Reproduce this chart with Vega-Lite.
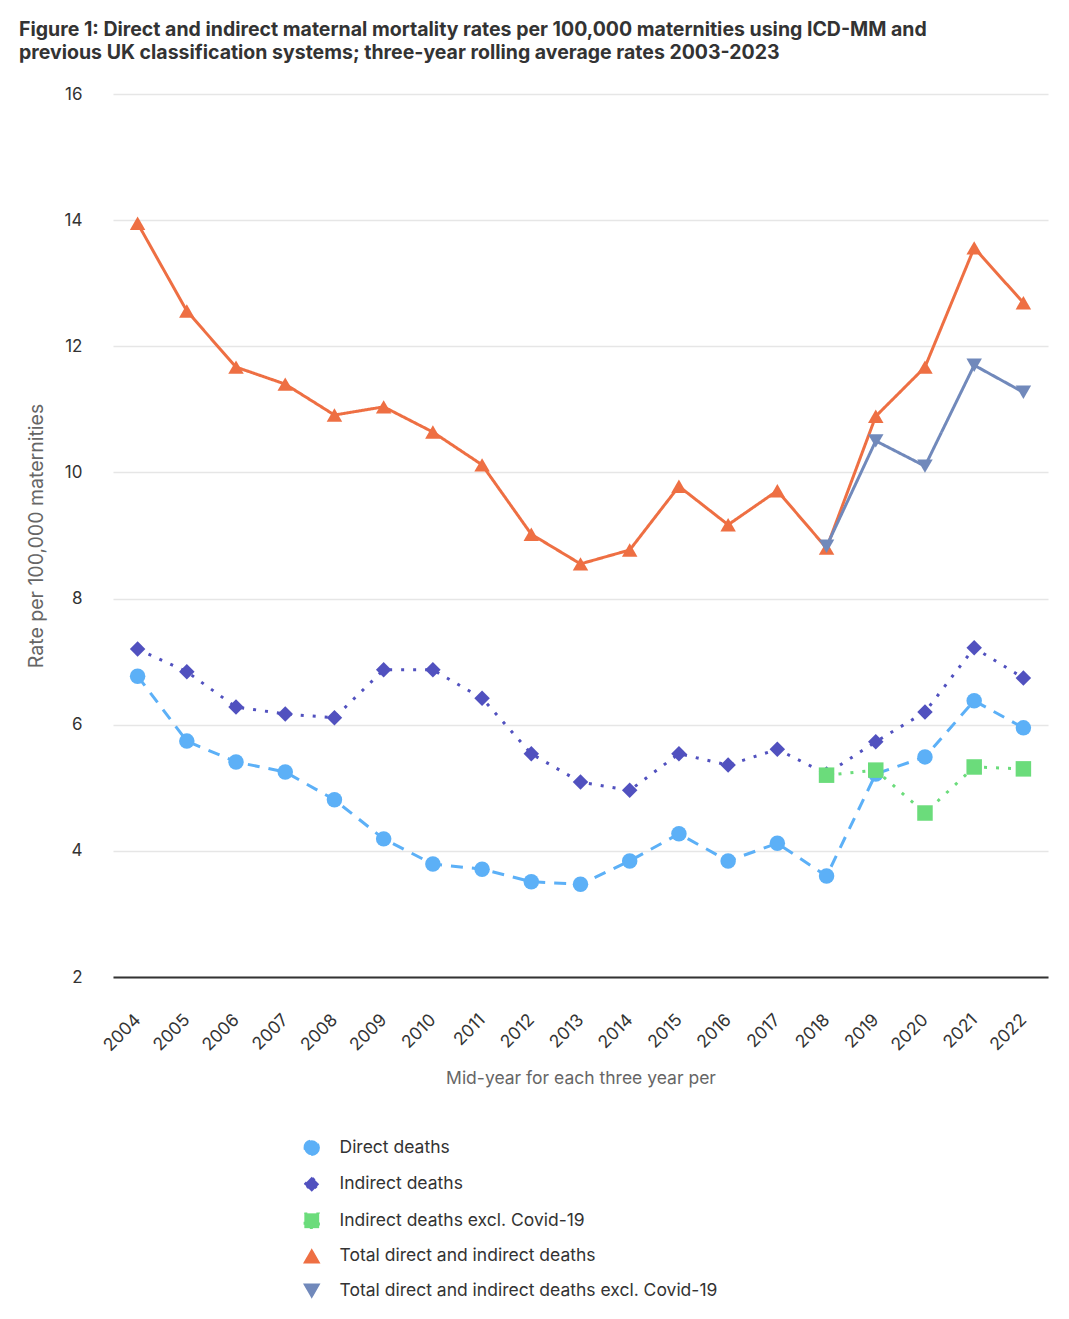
{
  "$schema": "https://vega.github.io/schema/vega-lite/v6.json",
  "width": 935,
  "height": 883,
  "autosize": {"type": "none"},
  "padding": {"left": 113, "top": 94, "right": 21, "bottom": 342},
  "background": "white",
  "config": {
    "font": "Inter",
    "view": {"stroke": null}
  },
  "title": {
    "text": ["Figure 1: Direct and indirect maternal mortality rates per 100,000 maternities using ICD-MM and", "previous UK classification systems; three-year rolling average rates 2003-2023"],
    "anchor": "start",
    "frame": "group",
    "dx": -94,
    "offset": 22,
    "fontSize": 19.5,
    "fontWeight": "bold",
    "color": "#333333",
    "font": "Inter",
    "lineHeight": 23
  },
  "data": {
    "values": [
      {"year": 2004, "series": "Direct deaths", "value": 6.77},
      {"year": 2005, "series": "Direct deaths", "value": 5.74},
      {"year": 2006, "series": "Direct deaths", "value": 5.41},
      {"year": 2007, "series": "Direct deaths", "value": 5.25},
      {"year": 2008, "series": "Direct deaths", "value": 4.81},
      {"year": 2009, "series": "Direct deaths", "value": 4.19},
      {"year": 2010, "series": "Direct deaths", "value": 3.79},
      {"year": 2011, "series": "Direct deaths", "value": 3.71},
      {"year": 2012, "series": "Direct deaths", "value": 3.51},
      {"year": 2013, "series": "Direct deaths", "value": 3.47},
      {"year": 2014, "series": "Direct deaths", "value": 3.84},
      {"year": 2015, "series": "Direct deaths", "value": 4.27},
      {"year": 2016, "series": "Direct deaths", "value": 3.84},
      {"year": 2017, "series": "Direct deaths", "value": 4.12},
      {"year": 2018, "series": "Direct deaths", "value": 3.60},
      {"year": 2019, "series": "Direct deaths", "value": 5.22},
      {"year": 2020, "series": "Direct deaths", "value": 5.49},
      {"year": 2021, "series": "Direct deaths", "value": 6.38},
      {"year": 2022, "series": "Direct deaths", "value": 5.95},
      {"year": 2004, "series": "Indirect deaths", "value": 7.20},
      {"year": 2005, "series": "Indirect deaths", "value": 6.84},
      {"year": 2006, "series": "Indirect deaths", "value": 6.28},
      {"year": 2007, "series": "Indirect deaths", "value": 6.17},
      {"year": 2008, "series": "Indirect deaths", "value": 6.11},
      {"year": 2009, "series": "Indirect deaths", "value": 6.87},
      {"year": 2010, "series": "Indirect deaths", "value": 6.87},
      {"year": 2011, "series": "Indirect deaths", "value": 6.42},
      {"year": 2012, "series": "Indirect deaths", "value": 5.54},
      {"year": 2013, "series": "Indirect deaths", "value": 5.09},
      {"year": 2014, "series": "Indirect deaths", "value": 4.96},
      {"year": 2015, "series": "Indirect deaths", "value": 5.54},
      {"year": 2016, "series": "Indirect deaths", "value": 5.36},
      {"year": 2017, "series": "Indirect deaths", "value": 5.61},
      {"year": 2018, "series": "Indirect deaths", "value": 5.22},
      {"year": 2019, "series": "Indirect deaths", "value": 5.73},
      {"year": 2020, "series": "Indirect deaths", "value": 6.20},
      {"year": 2021, "series": "Indirect deaths", "value": 7.22},
      {"year": 2022, "series": "Indirect deaths", "value": 6.74},
      {"year": 2018, "series": "Indirect deaths excl. Covid-19", "value": 5.20},
      {"year": 2019, "series": "Indirect deaths excl. Covid-19", "value": 5.28},
      {"year": 2020, "series": "Indirect deaths excl. Covid-19", "value": 4.60},
      {"year": 2021, "series": "Indirect deaths excl. Covid-19", "value": 5.33},
      {"year": 2022, "series": "Indirect deaths excl. Covid-19", "value": 5.30},
      {"year": 2004, "series": "Total direct and indirect deaths", "value": 13.95},
      {"year": 2005, "series": "Total direct and indirect deaths", "value": 12.56},
      {"year": 2006, "series": "Total direct and indirect deaths", "value": 11.67},
      {"year": 2007, "series": "Total direct and indirect deaths", "value": 11.40},
      {"year": 2008, "series": "Total direct and indirect deaths", "value": 10.91},
      {"year": 2009, "series": "Total direct and indirect deaths", "value": 11.04},
      {"year": 2010, "series": "Total direct and indirect deaths", "value": 10.64},
      {"year": 2011, "series": "Total direct and indirect deaths", "value": 10.12},
      {"year": 2012, "series": "Total direct and indirect deaths", "value": 9.02},
      {"year": 2013, "series": "Total direct and indirect deaths", "value": 8.55},
      {"year": 2014, "series": "Total direct and indirect deaths", "value": 8.77},
      {"year": 2015, "series": "Total direct and indirect deaths", "value": 9.78},
      {"year": 2016, "series": "Total direct and indirect deaths", "value": 9.17},
      {"year": 2017, "series": "Total direct and indirect deaths", "value": 9.71},
      {"year": 2018, "series": "Total direct and indirect deaths", "value": 8.80},
      {"year": 2019, "series": "Total direct and indirect deaths", "value": 10.89},
      {"year": 2020, "series": "Total direct and indirect deaths", "value": 11.67},
      {"year": 2021, "series": "Total direct and indirect deaths", "value": 13.56},
      {"year": 2022, "series": "Total direct and indirect deaths", "value": 12.69},
      {"year": 2018, "series": "Total direct and indirect deaths excl. Covid-19", "value": 8.83},
      {"year": 2019, "series": "Total direct and indirect deaths excl. Covid-19", "value": 10.50},
      {"year": 2020, "series": "Total direct and indirect deaths excl. Covid-19", "value": 10.10},
      {"year": 2021, "series": "Total direct and indirect deaths excl. Covid-19", "value": 11.70},
      {"year": 2022, "series": "Total direct and indirect deaths excl. Covid-19", "value": 11.27}
    ]
  },
  "encoding": {
    "x": {
      "field": "year",
      "type": "ordinal",
      "scale": {"type": "point", "padding": 0.5},
      "axis": {
        "title": "Mid-year for each three year per",
        "titleFont": "Inter",
        "titleFontSize": 17.5,
        "titleFontWeight": "normal",
        "titleColor": "#666666",
        "titlePadding": 15,
        "labelAngle": -45,
        "labelAlign": "right",
        "labelBaseline": "middle",
        "labelFont": "Inter",
        "labelFontSize": 17.5,
        "labelColor": "#333333",
        "labelPadding": 40,
        "ticks": false,
        "domainColor": "#333333",
        "domainWidth": 2,
        "grid": false
      }
    },
    "y": {
      "field": "value",
      "type": "quantitative",
      "scale": {"domain": [2, 16], "nice": false, "zero": false},
      "axis": {
        "title": "Rate per 100,000 maternities",
        "titleFont": "Inter",
        "titleFontSize": 19.5,
        "titleFontWeight": "normal",
        "titleColor": "#666666",
        "titlePadding": 18,
        "values": [2, 4, 6, 8, 10, 12, 14, 16],
        "labelFont": "Inter",
        "labelFontSize": 17,
        "labelColor": "#333333",
        "labelPadding": 31,
        "ticks": false,
        "domain": false,
        "grid": true,
        "gridColor": "#e6e6e6",
        "gridWidth": 1.5
      }
    },
    "color": {
      "field": "series",
      "type": "nominal",
      "scale": {
        "domain": ["Direct deaths", "Indirect deaths", "Indirect deaths excl. Covid-19", "Total direct and indirect deaths", "Total direct and indirect deaths excl. Covid-19"],
        "range": ["#5cb0f7", "#5151bf", "#6bdc7b", "#ee6f43", "#7189bb"]
      },
      "legend": {
        "title": null,
        "orient": "none",
        "legendX": 190,
        "legendY": 1045,
        "direction": "vertical",
        "padding": 0,
        "symbolSize": 220,
        "labelOffset": 19,
        "rowPadding": 14.5,
        "labelFont": "Inter",
        "labelFontSize": 17.5,
        "labelColor": "#333333",
        "labelLimit": 600
      }
    }
  },
  "layer": [
    {
      "mark": {"type": "line", "strokeWidth": 3},
      "encoding": {
        "strokeDash": {
          "field": "series",
          "type": "nominal",
          "legend": null,
          "scale": {
            "domain": ["Direct deaths", "Indirect deaths", "Indirect deaths excl. Covid-19", "Total direct and indirect deaths", "Total direct and indirect deaths excl. Covid-19"],
            "range": [[12, 9], [3, 9], [3, 9], [1, 0], [1, 0]]
          }
        }
      }
    },
    {
      "mark": {"type": "point", "filled": true, "opacity": 1, "size": 240},
      "encoding": {
        "shape": {
          "field": "series",
          "type": "nominal",
          "legend": null,
          "scale": {
            "domain": ["Direct deaths", "Indirect deaths", "Indirect deaths excl. Covid-19", "Total direct and indirect deaths", "Total direct and indirect deaths excl. Covid-19"],
            "range": ["circle", "diamond", "square", "triangle-up", "triangle-down"]
          }
        }
      }
    }
  ]
}
